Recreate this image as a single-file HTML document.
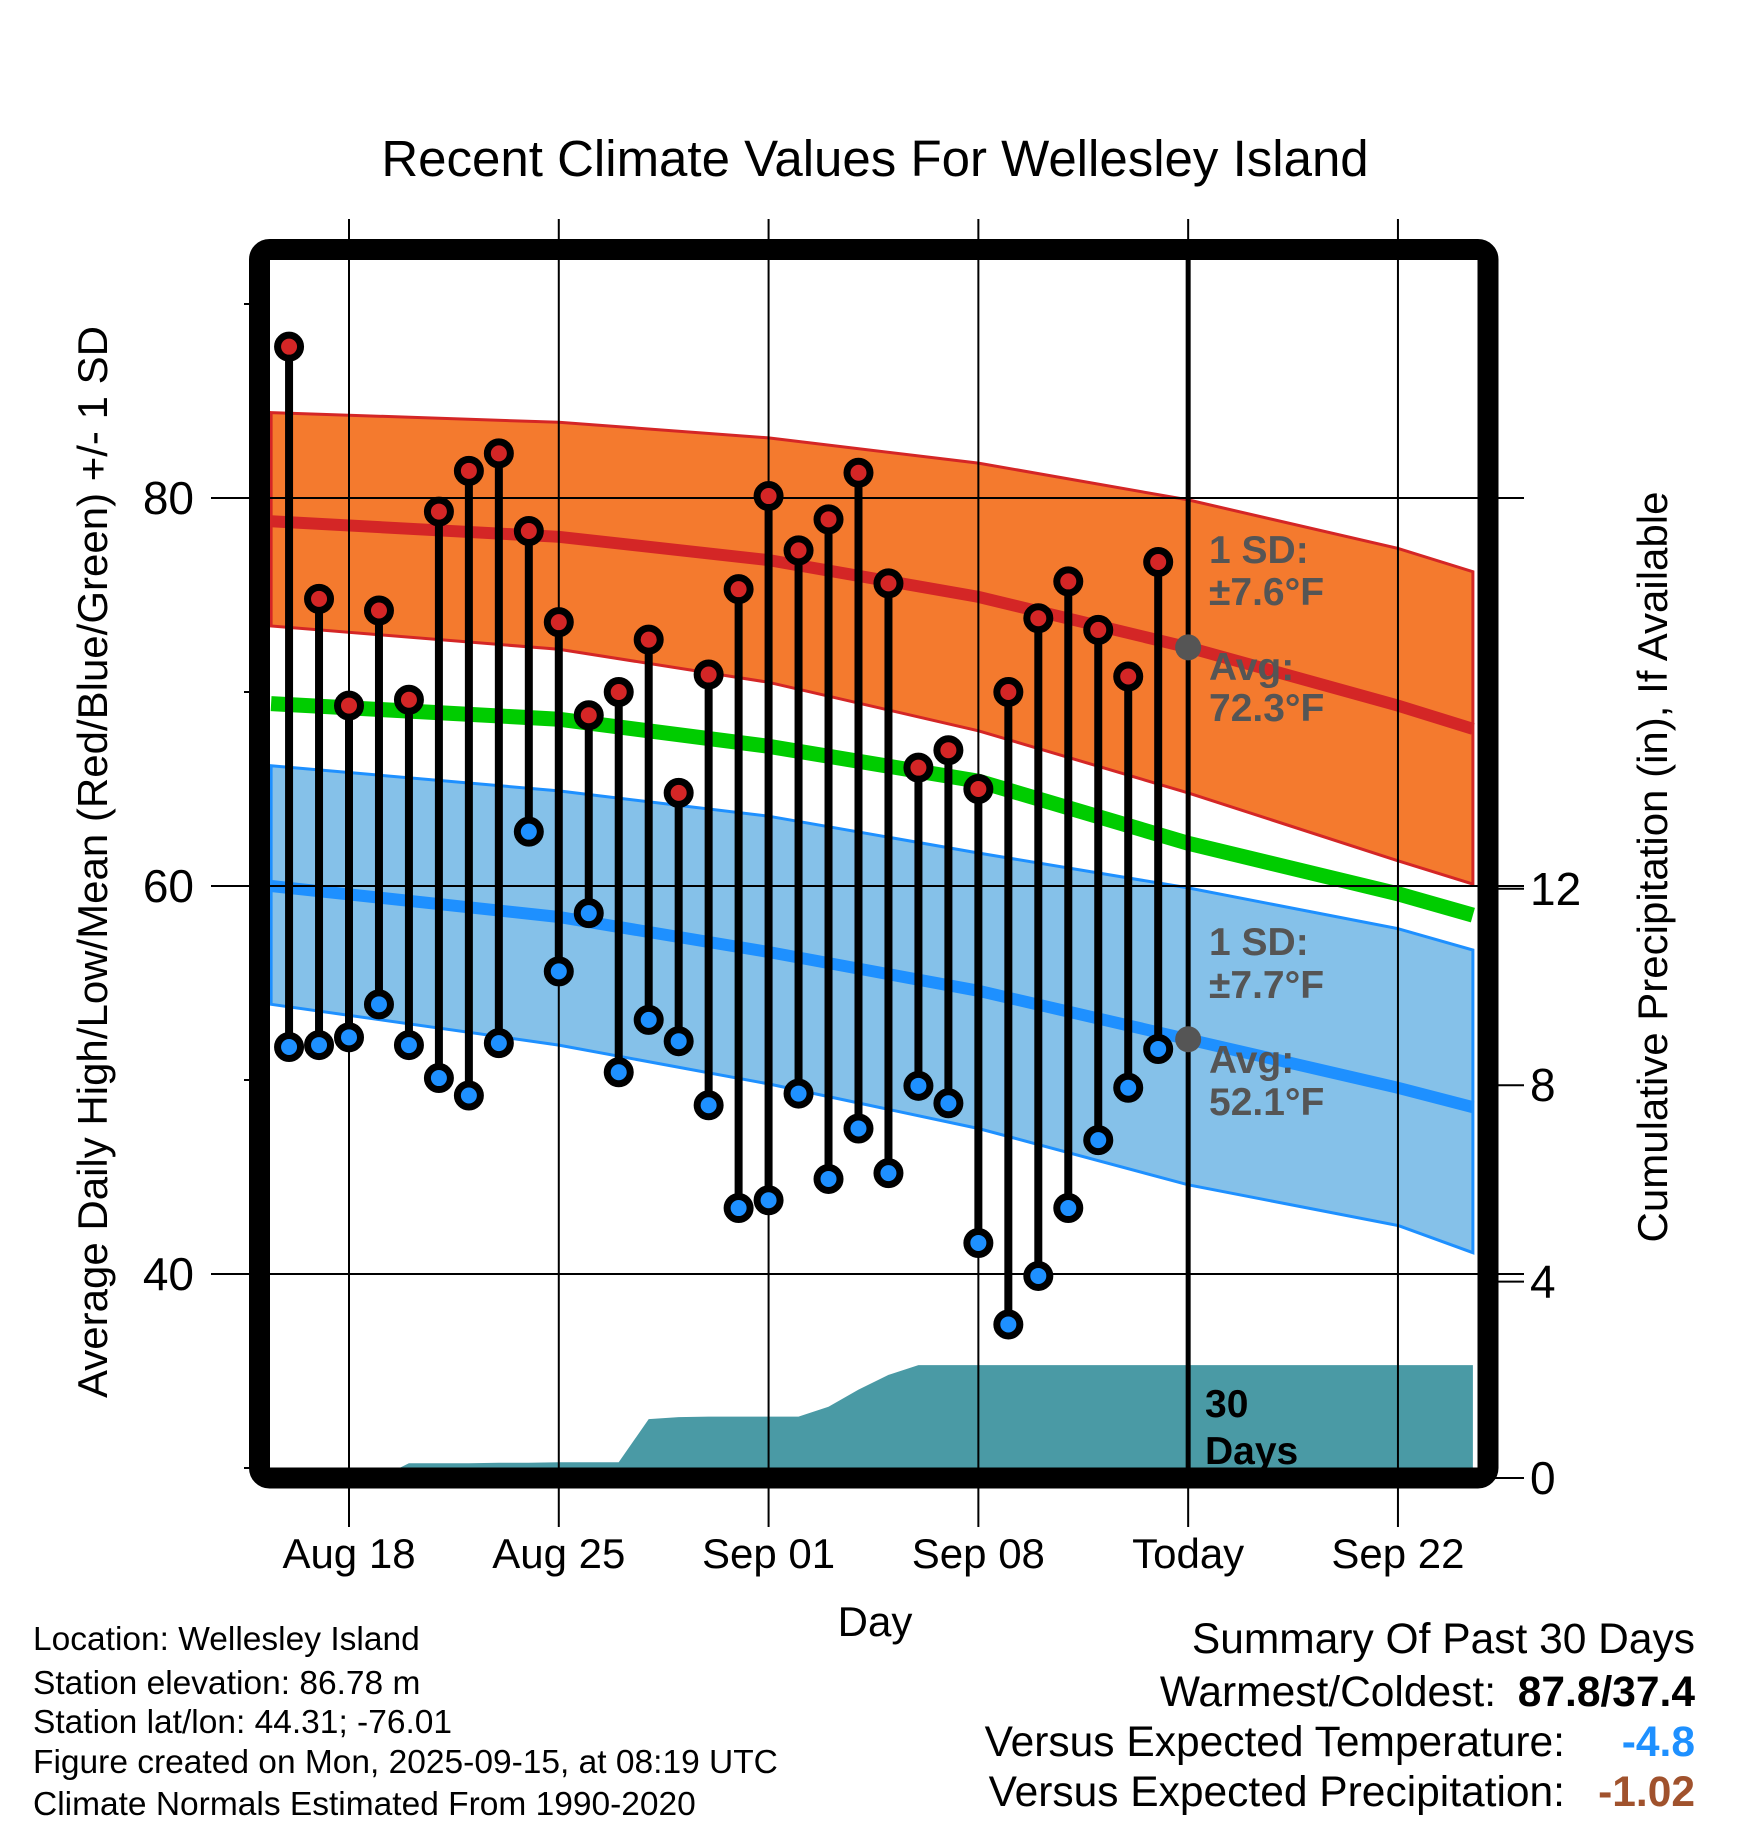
<!DOCTYPE html>
<html><head><meta charset="utf-8"><style>
html,body{margin:0;padding:0;background:#fff;}
svg{display:block;font-family:"Liberation Sans",Arial,sans-serif;}
</style></head><body>
<svg id="chart" width="1748" height="1828" viewBox="0 0 1748 1828" xmlns="http://www.w3.org/2000/svg">
<defs><clipPath id="plotclip"><rect x="270" y="260" width="1208" height="1208"/></clipPath></defs>
<text x="875" y="176" font-size="51" text-anchor="middle">Recent Climate Values For Wellesley Island</text>
<g id="bands" clip-path="url(#plotclip)"></g>
<g id="grid"></g>
<g id="marks" clip-path="url(#plotclip)"></g>
<rect x="259.5" y="249.5" width="1228.5" height="1228.5" rx="10" fill="none" stroke="#000" stroke-width="21"/>
<g id="labels"></g>
<text x="875" y="1636" font-size="42" text-anchor="middle">Day</text>
<text transform="translate(107,862) rotate(-90)" font-size="42" text-anchor="middle">Average Daily High/Low/Mean (Red/Blue/Green) +/- 1 SD</text>
<text transform="translate(1667,867) rotate(-90)" font-size="42" text-anchor="middle">Cumulative Precipitation (in), If Available</text>
<g font-size="33.5">
<text x="33" y="1650">Location: Wellesley Island</text>
<text x="33" y="1694">Station elevation: 86.78 m</text>
<text x="33" y="1733">Station lat/lon: 44.31; -76.01</text>
<text x="33" y="1773">Figure created on Mon, 2025-09-15, at 08:19 UTC</text>
<text x="33" y="1815">Climate Normals Estimated From 1990-2020</text>
</g>
<g font-size="42.5" text-anchor="end">
<text x="1695" y="1653">Summary Of Past 30 Days</text>
<text x="1496" y="1706">Warmest/Coldest:</text>
<text x="1695" y="1706" font-weight="bold">87.8/37.4</text>
<text x="1565" y="1756">Versus Expected Temperature:</text>
<text x="1695" y="1756" font-weight="bold" fill="#1E90FF">-4.8</text>
<text x="1565" y="1806">Versus Expected Precipitation:</text>
<text x="1695" y="1806" font-weight="bold" fill="#A0522D">-1.02</text>
</g>
</svg>
<script>
// days relative to Aug 18
const obsDays = [-2,-1,0,1,2,3,4,5,6,7,8,9,10,11,12,13,14,15,16,17,18,19,20,21,22,23,24,25,26,27];
const highs = [87.8,74.8,69.3,74.2,69.6,79.3,81.4,82.3,78.3,73.6,68.8,70.0,72.7,64.8,70.9,75.3,80.1,77.3,78.9,81.3,75.6,66.1,67.0,65.0,70.0,73.8,75.7,73.2,70.8,76.7];
const lows = [51.7,51.8,52.2,53.9,51.8,50.1,49.2,51.9,62.8,55.6,58.6,50.4,53.1,52.0,48.7,43.4,43.8,49.3,44.9,47.5,45.2,49.7,48.8,41.6,37.4,39.9,43.4,46.9,49.6,51.6];
const precipDays = [-2,-1,0,1,2,3,4,5,6,7,8,9,10,11,12,13,14,15,16,17,18,19,20,21,22,23,24,25,26,27,37.5];
const precipCum = [0,0,0,0,0.3,0.3,0.3,0.31,0.31,0.32,0.32,0.32,1.2,1.24,1.25,1.25,1.25,1.25,1.45,1.8,2.1,2.3,2.3,2.3,2.3,2.3,2.3,2.3,2.3,2.3,2.3];
const normDays = [-2.6,7,14,21,28,35,37.5];
const highUpper = [84.4,83.9,83.1,81.8,79.9,77.4,76.2];
const highAvg = [78.8,78.0,76.8,74.9,72.3,69.3,68.1];
const highLower = [73.4,72.2,70.5,68.0,64.8,61.3,60.1];
const meanAvg = [69.4,68.6,67.2,65.4,62.2,59.6,58.5];
const lowUpper = [66.2,64.9,63.6,61.7,59.9,57.8,56.7];
const lowAvg = [60.0,58.4,56.6,54.6,52.1,49.6,48.6];
const lowLower = [53.9,51.8,49.8,47.5,44.6,42.5,41.1];
const xTickDays = [0,7,14,21,28,35];
const xTickLabels = ["Aug 18","Aug 25","Sep 01","Sep 08","Today","Sep 22"];
const yTicks = [40,60,80];
const yMinor = [30,50,70,90];
const pTicks = [0,4,8,12];
const todayDay = 28;
const todayHigh = 72.3, todayLow = 52.1;

const NS = "http://www.w3.org/2000/svg";
const X = d => 349 + d * 29.97;
const Y = t => 498 + (80 - t) * 19.4;
const P = p => 1478 - p * 49.1;
function mk(parent, tag, attrs, text) {
  const e = document.createElementNS(NS, tag);
  for (const k in attrs) e.setAttribute(k, attrs[k]);
  if (text !== undefined) e.textContent = text;
  document.getElementById(parent).appendChild(e);
  return e;
}
function linePts(days, vals) { return days.map((d,i)=>X(d).toFixed(1)+","+Y(vals[i]).toFixed(1)); }
function bandPath(up, lo) {
  const a = linePts(normDays, up), b = linePts(normDays, lo).reverse();
  return "M" + a.join("L") + "L" + b.join("L") + "Z";
}
let e;
e = mk("bands","path",{d:bandPath(highUpper,highLower),fill:"#F47A2E",stroke:"#D42626","stroke-width":3});


e = mk("bands","path",{d:bandPath(lowUpper,lowLower),fill:"#85C1E9",stroke:"#1E90FF","stroke-width":3});


e = mk("bands","polyline",{points:linePts(normDays,highAvg).join(" "),fill:"none",stroke:"#D42626","stroke-width":12});


e = mk("bands","polyline",{points:linePts(normDays,meanAvg).join(" "),fill:"none",stroke:"#00CC00","stroke-width":15});


e = mk("bands","polyline",{points:linePts(normDays,lowAvg).join(" "),fill:"none",stroke:"#1E90FF","stroke-width":12});


let pd = "M" + X(precipDays[0]) + "," + P(0);
precipDays.forEach((d,i)=>{ pd += "L" + X(d).toFixed(1) + "," + P(precipCum[i]).toFixed(1); });
pd += "L" + X(precipDays[precipDays.length-1]) + "," + P(0) + "Z";
e = mk("bands","path",{d:pd,fill:"#4A9AA5"});



xTickDays.forEach((d,i)=>{
  e = mk("grid","line",{x1:X(d),x2:X(d),y1:219,y2:1527,stroke:"#000","stroke-width":2});
  
  
  e = mk("labels","text",{x:X(d),y:1568,"font-size":42,"text-anchor":"middle"},xTickLabels[i]);
  
  
});
yTicks.forEach(t=>{
  e = mk("grid","line",{x1:211,x2:1524,y1:Y(t),y2:Y(t),stroke:"#000","stroke-width":2});
  
  
  e = mk("labels","text",{x:194,y:Y(t)+16,"font-size":46,"text-anchor":"end"},String(t));
  
  
});
yMinor.forEach(t=>{
  e = mk("grid","line",{x1:244,x2:262,y1:Y(t),y2:Y(t),stroke:"#000","stroke-width":2});
  
  
});
pTicks.forEach(p=>{
  e = mk("grid","line",{x1:1480,x2:1524,y1:P(p),y2:P(p),stroke:"#000","stroke-width":2});
  
  
  e = mk("labels","text",{x:1530,y:P(p)+16,"font-size":46},String(p));
  
  
});
e = mk("marks","line",{x1:X(todayDay),x2:X(todayDay),y1:255,y2:1475,stroke:"#000","stroke-width":5});



obsDays.forEach((d,i)=>{
  e = mk("marks","line",{x1:X(d),x2:X(d),y1:Y(highs[i]),y2:Y(lows[i]),stroke:"#000","stroke-width":8});
  
  
});
obsDays.forEach((d,i)=>{
  e = mk("marks","circle",{cx:X(d),cy:Y(highs[i]),r:11.5,fill:"#D42626",stroke:"#000","stroke-width":7});
  
  
  e = mk("marks","circle",{cx:X(d),cy:Y(lows[i]),r:11.5,fill:"#1E90FF",stroke:"#000","stroke-width":7});
  
  
});
e = mk("marks","circle",{cx:X(todayDay),cy:Y(todayHigh),r:13,fill:"#555"});


e = mk("marks","circle",{cx:X(todayDay),cy:Y(todayLow),r:13,fill:"#555"});



const ann = [["1 SD:",563],["±7.6°F",605],["Avg:",680],["72.3°F",721],["1 SD:",955],["±7.7°F",998],["Avg:",1073],["52.1°F",1115]];
ann.forEach(a=>{
  e = mk("labels","text",{x:1209,y:a[1],"font-size":39,"font-weight":"bold",fill:"#555"},a[0]);
  
  
});
e = mk("labels","text",{x:1205,y:1417,"font-size":39,"font-weight":"bold"},"30");


e = mk("labels","text",{x:1205,y:1464,"font-size":39,"font-weight":"bold"},"Days");


</script>
</body></html>
